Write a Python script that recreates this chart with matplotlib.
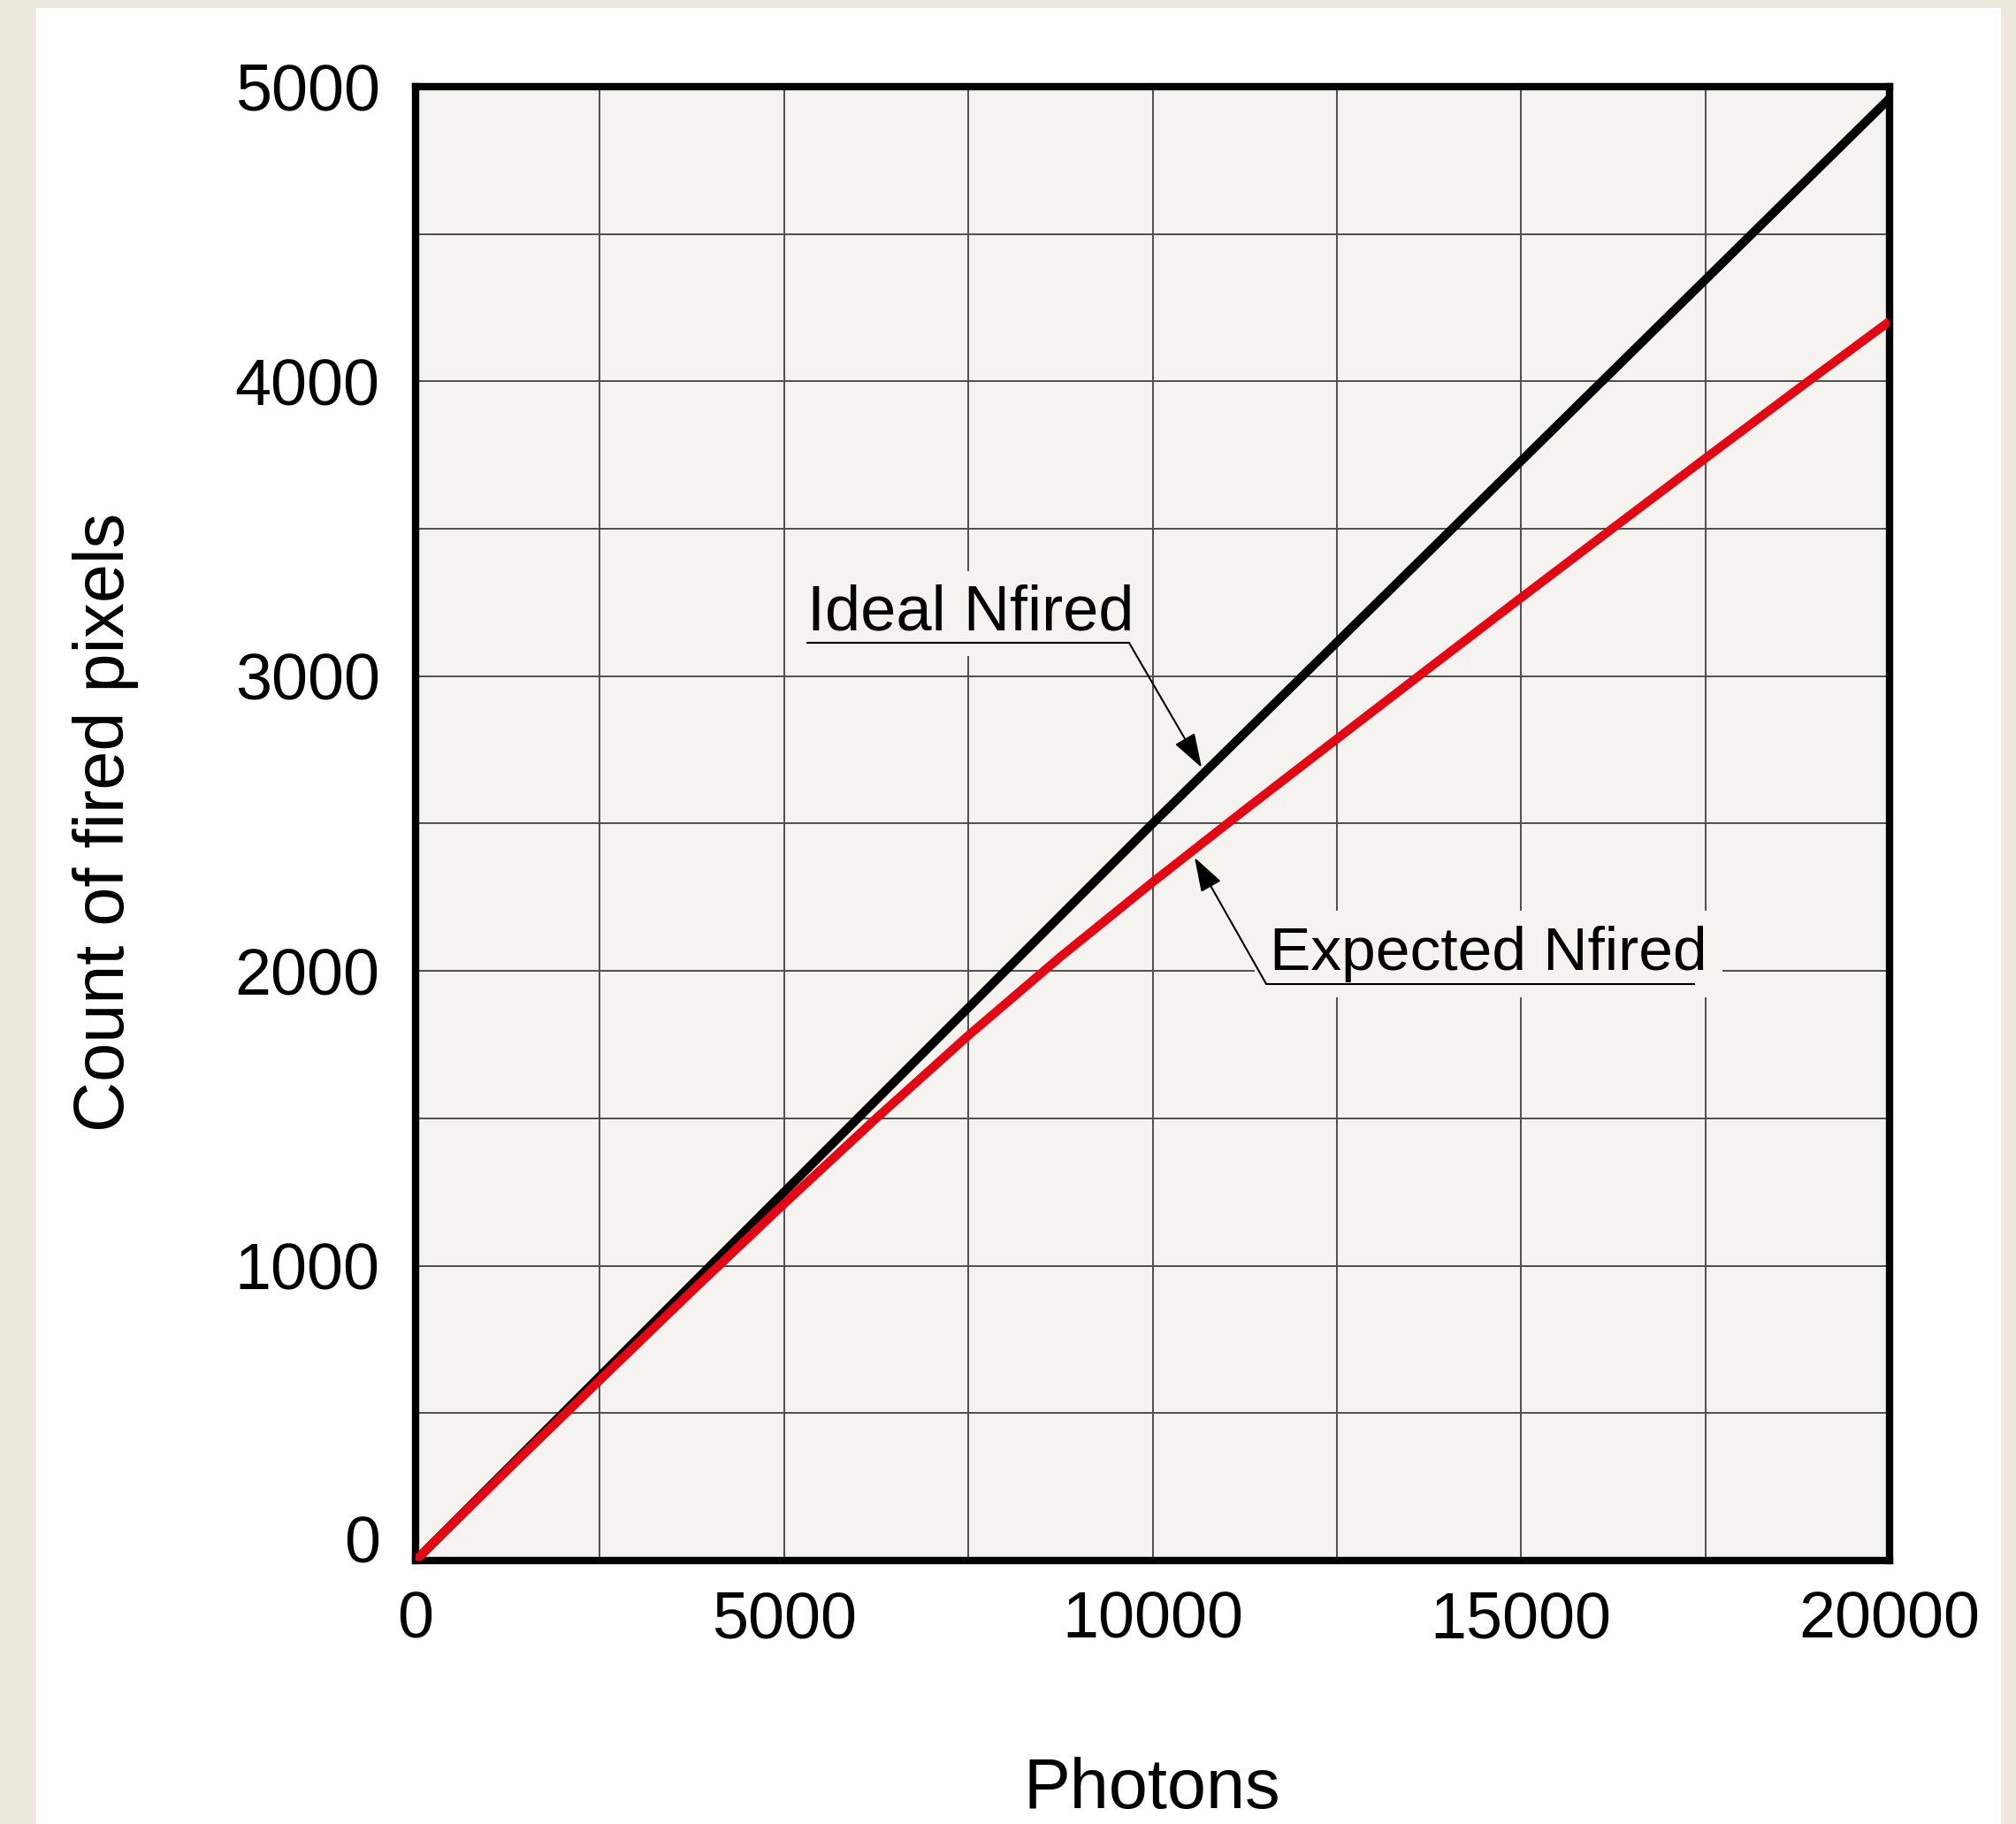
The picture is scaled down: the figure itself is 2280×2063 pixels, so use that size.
import matplotlib
matplotlib.use("Agg")
import matplotlib.pyplot as plt
import matplotlib.transforms as mtransforms
from matplotlib.patches import Rectangle

plt.rcParams['font.family'] = ['Liberation Sans', 'DejaVu Sans']

# data
photons_ideal = [0, 10000, 20000]
nfired_ideal = [0, 2500, 4960]

photons_expected = [0, 1250, 2500, 3750, 5000, 6250, 7500, 8750, 10000,
                    11250, 12500, 13750, 15000, 16250, 17500, 18750, 20000]
nfired_expected = [0, 308, 612, 914, 1210, 1500, 1781, 2048, 2301,
                   2546, 2787, 3027, 3266, 3503, 3739, 3973, 4204]

x_ticks = [0, 5000, 10000, 15000, 20000]
y_ticks = [0, 1000, 2000, 3000, 4000, 5000]
x_grid = [2500, 7500, 12500, 17500]
y_grid = [500, 1500, 2500, 3500, 4500]

face = '#F4F3EF'
border = '#EDE9DF'
red = '#E30613'

W, H = 2280, 2063
fig = plt.figure(figsize=(W / 100, H / 100), dpi=100, facecolor=border)
# white sheet inside the beige border
fig.patches.append(Rectangle((41 / W, 0), (2263 - 41) / W, 1 - 9 / H,
                             transform=fig.transFigure, facecolor='white',
                             edgecolor='none', zorder=-10))

ax = fig.add_axes([470 / W, 1 - 1765 / H, 1667 / W, 1667 / H])
ax.set_facecolor(face)
ax.set_xlim(0, 20000)
ax.set_ylim(0, 5000)

ax.set_xticks(x_ticks)
ax.set_yticks(y_ticks)
ax.set_xticks(x_grid, minor=True)
ax.set_yticks(y_grid, minor=True)
ax.grid(True, which='both', color='#4d4d4d', linewidth=1.4)
ax.set_axisbelow(True)
ax.tick_params(which='both', length=0)
ax.tick_params(axis='x', pad=24, labelsize=53)
ax.tick_params(axis='y', pad=29, labelsize=53)

for s in ax.spines.values():
    s.set_linewidth(6)
    s.set_color('black')

ax.plot(photons_ideal, nfired_ideal, color='black', linewidth=7.2,
        solid_capstyle='butt', zorder=3)
ax.plot(photons_expected, nfired_expected, color=red, linewidth=7.2,
        solid_capstyle='butt', solid_joinstyle='round', zorder=4)

arrow = dict(arrowstyle='-|>,head_length=0.6,head_width=0.2', color='black',
             lw=1.5, mutation_scale=40, shrinkA=0, shrinkB=0)

# Ideal Nfired label
ax.text(5315, 3158, 'Ideal Nfired', fontsize=52, ha='left', va='baseline',
        zorder=5, bbox=dict(boxstyle='square,pad=0.2', facecolor=face,
                            edgecolor='none'))
ax.plot([5315, 9682], [3113, 3113], color='black', lw=1.5, zorder=5)
ax.annotate('', xy=(10666, 2690), xytext=(9682, 3113), arrowprops=arrow,
            zorder=5)

# Expected Nfired label
ax.text(11590, 2004, 'Expected Nfired', fontsize=50, ha='left',
        va='baseline', zorder=5,
        bbox=dict(boxstyle='square,pad=0.25', facecolor=face,
                  edgecolor='none'))
ax.plot([11542, 17349], [1956, 1956], color='black', lw=1.5, zorder=5)
ax.annotate('', xy=(10570, 2385), xytext=(11542, 1956), arrowprops=arrow,
            zorder=5)

fig.text(1303 / W, 1 - 2045 / H, 'Photons', fontsize=57, ha='center',
         va='baseline')
fig.text(120 / W, 1 - 930 / H, 'Count of fired pixels', fontsize=57,
         rotation=90, ha='center', va='center')

# the "0" on the y axis sits a little above its tick in the reference
lab0 = ax.yaxis.get_major_ticks()[0].label1
lab0.set_transform(lab0.get_transform() +
                   mtransforms.ScaledTranslation(0, 0.25, fig.dpi_scale_trans))

fig.savefig('out.png', dpi=100, facecolor=fig.get_facecolor())
